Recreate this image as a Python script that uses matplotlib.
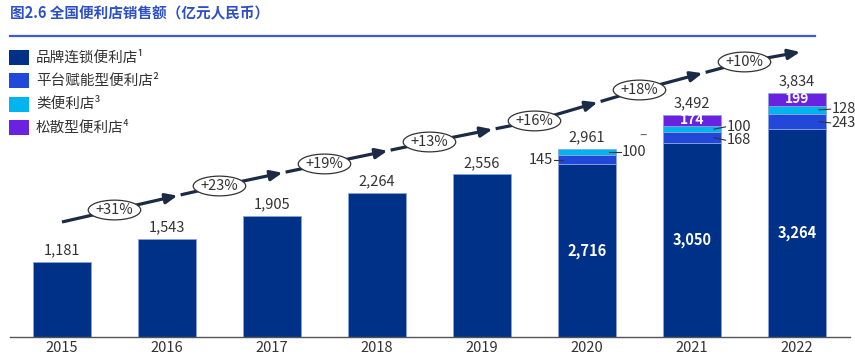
import matplotlib
matplotlib.use("Agg")
import matplotlib.pyplot as plt
from matplotlib.patches import Ellipse, Rectangle
from matplotlib.lines import Line2D

plt.rcParams['font.family'] = ['Noto Sans CJK SC', 'DejaVu Sans']

# data (亿元人民币)
years = ['2015', '2016', '2017', '2018', '2019', '2020', '2021', '2022']
brand = [1181, 1543, 1905, 2264, 2556, 2716, 3050, 3264]
platform = [0, 0, 0, 0, 0, 145, 168, 243]
similar = [0, 0, 0, 0, 0, 100, 100, 128]
loose = [0, 0, 0, 0, 0, 0, 174, 199]
totals = [1181, 1543, 1905, 2264, 2556, 2961, 3492, 3834]
growth = ['+31%', '+23%', '+19%', '+13%', '+16%', '+18%', '+10%']
legend_names = ['品牌连锁便利店¹', '平台赋能型便利店²', '类便利店³', '松散型便利店⁴']

c_brand = '#003189'
c_plat = '#2148D8'
c_sim = '#00B4EF'
c_loose = '#6B21E0'
c_arrow = '#1C2B45'
c_text = '#333333'
c_title = '#2D4FC9'

fig = plt.figure(figsize=(8.55, 3.61), dpi=100)
ax = fig.add_axes([10 / 855, 23.7 / 361, 840 / 855, 317.3 / 361])
ax.set_xlim(-0.495, 7.505)
ax.set_ylim(0, 4981)

x = list(range(len(years)))
w = 0.56
edge = dict(edgecolor='#8CA4DC', linewidth=0.6)

b1 = ax.bar(x, brand, w, color=c_brand, **edge, zorder=2)
bot2 = brand
b2 = ax.bar(x, platform, w, bottom=bot2, color=c_plat, **edge, zorder=2)
bot3 = [a + b for a, b in zip(bot2, platform)]
b3 = ax.bar(x, similar, w, bottom=bot3, color=c_sim, **edge, zorder=2)
bot4 = [a + b for a, b in zip(bot3, similar)]
b4 = ax.bar(x, loose, w, bottom=bot4, color=c_loose, **edge, zorder=2)
# hide empty segments
for bars, vals in [(b2, platform), (b3, similar), (b4, loose)]:
    for r, v in zip(bars, vals):
        if v == 0:
            r.set_visible(False)

# totals on top
for i, t in enumerate(totals):
    ax.text(i, t + 70, f'{t:,}', ha='center', va='bottom', fontsize=10.5, color=c_text)

# white labels inside stacked bars
for i in range(5, 8):
    ax.text(i, brand[i] / 2, f'{brand[i]:,}', ha='center', va='center',
            fontsize=10.5, color='white', fontweight='bold')
    if loose[i]:
        ax.text(i, bot4[i] + loose[i] / 2, f'{loose[i]}', ha='center', va='center',
                fontsize=10, color='white', fontweight='bold')

# side labels with leaders
def side_label(i, yseg, ylab, txt, side):
    if side == 'r':
        x0 = i + w / 2 - 0.07
        x1 = i + w / 2 + 0.04
        ax.add_line(Line2D([x0, x1], [yseg, ylab], color=c_text, lw=0.8, zorder=4))
        ax.text(x1 + 0.01, ylab, txt, ha='left', va='center', fontsize=10.5, color=c_text)
    else:
        x0 = i - w / 2 + 0.05
        x1 = i - w / 2 - 0.03
        ax.add_line(Line2D([x0, x1], [yseg, ylab], color=c_text, lw=0.8, zorder=4))
        ax.text(x1 - 0.01, ylab, txt, ha='right', va='center', fontsize=10.5, color=c_text)

side_label(5, bot2[5] + platform[5] / 2, bot2[5] + platform[5] / 2, f'{platform[5]}', 'l')
side_label(5, bot3[5] + similar[5] / 2, bot3[5] + similar[5] / 2, f'{similar[5]}', 'r')
side_label(6, bot3[6] + similar[6] / 2, bot3[6] + similar[6] / 2 + 35, f'{similar[6]}', 'r')
side_label(6, bot2[6] + platform[6] / 2, bot2[6] + platform[6] / 2 - 40, f'{platform[6]}', 'r')
side_label(7, bot3[7] + similar[7] / 2, bot3[7] + similar[7] / 2 + 10, f'{similar[7]}', 'r')
side_label(7, bot2[7] + platform[7] / 2, bot2[7] + platform[7] / 2 - 20, f'{platform[7]}', 'r')
ax.text(5.53, 3160, '–', ha='center', va='center', fontsize=10, color='#666666')

# growth arrow
arrow_y = [1998, 2375, 2721, 3066, 3396, 3882, 4322]
ell = [(i + 0.5, y) for i, y in enumerate(arrow_y)]
start = (0, 1810)
end = (7.03, 4479)
lw_a = 2.3
akw = dict(color=c_arrow, lw=lw_a, solid_capstyle='butt')
hstyle = '-|>,head_length=0.7,head_width=0.3'
ax.add_line(Line2D([start[0], ell[0][0]], [start[1], ell[0][1]], zorder=3, **akw))
for p, q in zip(ell[:-1], ell[1:]):
    m = (p[0] + 0.6 * (q[0] - p[0]), p[1] + 0.6 * (q[1] - p[1]))
    ax.annotate('', xy=m, xytext=p,
                arrowprops=dict(arrowstyle=hstyle, color=c_arrow, lw=lw_a,
                                shrinkA=0, shrinkB=0), zorder=3)
    g = (m[0] + 0.03, m[1] + 0.03 * (q[1] - p[1]))
    ax.add_line(Line2D([g[0], q[0]], [g[1], q[1]], zorder=3, **akw))
ax.annotate('', xy=end, xytext=ell[-1],
            arrowprops=dict(arrowstyle=hstyle, color=c_arrow, lw=lw_a,
                            shrinkA=0, shrinkB=0), zorder=3)
for (ex, ey), lab in zip(ell, growth):
    ax.add_patch(Ellipse((ex, ey), 0.5, 310, facecolor='white', edgecolor='#333333',
                         lw=0.9, zorder=5))
    ax.text(ex, ey, lab, ha='center', va='center', fontsize=10.5, color=c_text, zorder=6)

# axes styling
for s in ['top', 'right', 'left']:
    ax.spines[s].set_visible(False)
ax.spines['bottom'].set_color('#555555')
ax.spines['bottom'].set_linewidth(1.0)
ax.set_yticks([])
ax.set_xticks(x)
ax.set_xticklabels(years, fontsize=10.5, color=c_text)
ax.tick_params(axis='x', length=0, pad=3)

# title and rule
fig.text(10 / 855, 1 - 13 / 361, '图2.6 全国便利店销售额（亿元人民币）', ha='left', va='center',
         fontsize=10.5, fontweight='bold', color=c_title)
fig.add_artist(Line2D([10 / 855, 815 / 855], [1 - 36 / 361, 1 - 36 / 361],
                      color='#3B5BD6', lw=1.6))

# legend
for k, (name, col) in enumerate(zip(legend_names, [c_brand, c_plat, c_sim, c_loose])):
    yc = [57.5, 80.5, 104, 127.5][k]
    fig.add_artist(Rectangle((9 / 855, 1 - (yc + 7.5) / 361), 20 / 855, 15 / 361,
                             facecolor=col, edgecolor='none'))
    fig.text(36 / 855, 1 - yc / 361, name, ha='left', va='center', fontsize=10.5, color=c_text)

fig.savefig('out.png', dpi=100)
